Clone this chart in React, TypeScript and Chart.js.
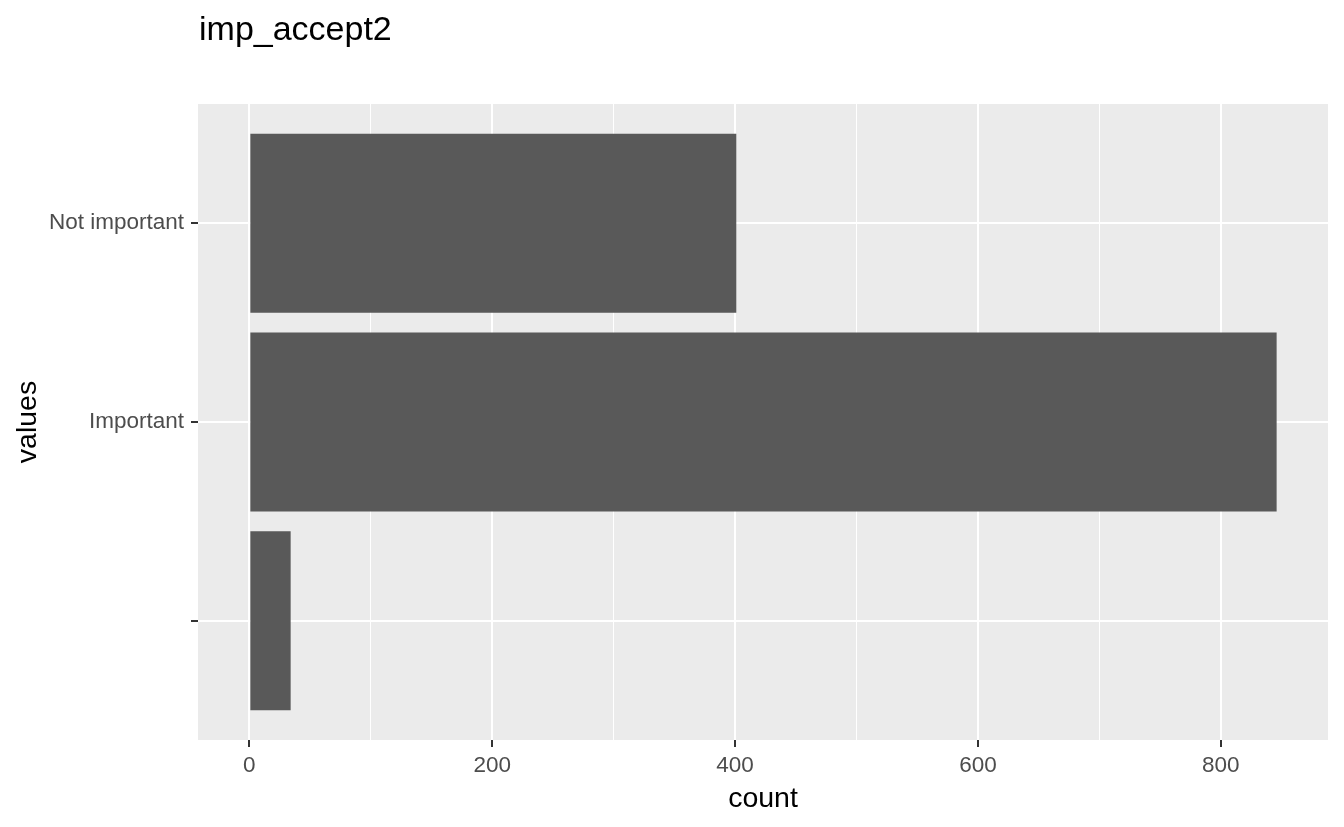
import React, { useEffect, useRef } from "react";
import { Chart, registerables } from "chart.js";
Chart.register(...registerables);

const plotTitle = "imp_accept2";
const xTitle = "count";
const yTitle = "values";
const categories = ["", "Important", "Not important"];
const counts = [34, 846, 401];
const xTicks = [0, 100, 200, 300, 400, 500, 600, 700, 800];
const xMajor = [0, 200, 400, 600, 800];
const xLimits = [-42.3, 888.3];
const yLimits = [0.4, 3.6];

const FONT = '"Liberation Sans", Arial, sans-serif';

export default function App() {
  const ref = useRef<HTMLCanvasElement>(null);
  useEffect(() => {
    const canvas = ref.current!;
    const panelBg = {
      id: "panelBg",
      beforeDraw(chart: any) {
        const { ctx, chartArea: a } = chart;
        ctx.save();
        ctx.fillStyle = "#EBEBEB";
        ctx.fillRect(a.left, a.top, a.right - a.left, a.bottom - a.top);
        ctx.restore();
      },
    };
    const titlePlugin = {
      id: "plotTitle",
      afterDraw(chart: any) {
        const { ctx, chartArea: a } = chart;
        ctx.save();
        ctx.font = `34px ${FONT}`;
        ctx.fillStyle = "#000000";
        ctx.textAlign = "left";
        ctx.textBaseline = "alphabetic";
        ctx.fillText(plotTitle, a.left + 1, 39.5);
        ctx.restore();
      },
    };
    const chart = new Chart(canvas, {
      type: "bar",
      data: {
        datasets: [
          {
            data: categories.map((c, i) => ({ x: counts[i], y: i + 1 })),
            backgroundColor: "#595959",
            borderWidth: 0,
            inflateAmount: 0,
            barPercentage: 0.9,
            categoryPercentage: 1,
          } as any,
        ],
      },
      options: {
        indexAxis: "y",
        responsive: false,
        animation: false,
        devicePixelRatio: 1,
        layout: { padding: { left: 0, top: 104, right: 16, bottom: 0 } },
        plugins: { legend: { display: false }, tooltip: { enabled: false } },
        scales: {
          x: {
            type: "linear",
            position: "bottom",
            min: xLimits[0],
            max: xLimits[1],
            offset: false,
            afterBuildTicks: (s: any) => {
              s.ticks = xTicks.map((v) => ({ value: v }));
            },
            afterFit: (s: any) => {
              s.height = 87;
            },
            ticks: {
              autoSkip: false,
              maxRotation: 0,
              padding: 5,
              color: "#4D4D4D",
              font: { family: FONT, size: 22.5 },
              callback: (v: any) => (xMajor.includes(Number(v)) ? String(v) : ""),
            },
            grid: {
              offset: false,
              color: "#FFFFFF",
              lineWidth: (c: any) => (c.tick && xMajor.includes(c.tick.value) ? 2 : 1),
              tickColor: (c: any) => (c.tick && xMajor.includes(c.tick.value) ? "#333333" : "rgba(0,0,0,0)"),
              tickWidth: 2,
              tickLength: 7,
              drawTicks: true,
            },
            border: { display: false },
            title: {
              display: true,
              text: xTitle,
              color: "#000000",
              font: { family: FONT, size: 28.5 },
              padding: { top: 0, bottom: 10.5 },
            },
          },
          y: {
            type: "linear",
            position: "left",
            min: yLimits[0],
            max: yLimits[1],
            offset: false,
            afterBuildTicks: (s: any) => {
              s.ticks = categories.map((c, i) => ({ value: i + 1 }));
            },
            afterFit: (s: any) => {
              s.width = 198;
            },
            ticks: {
              autoSkip: false,
              padding: 7,
              color: "#4D4D4D",
              font: { family: FONT, size: 22.5 },
              callback: (v: any) => categories[Number(v) - 1] ?? "",
            },
            grid: {
              offset: false,
              color: "#FFFFFF",
              lineWidth: 2,
              tickColor: "#333333",
              tickWidth: 2,
              tickLength: 7,
              drawTicks: true,
            },
            border: { display: false },
            title: {
              display: true,
              text: yTitle,
              color: "#000000",
              font: { family: FONT, size: 28.5 },
              padding: { top: 11, bottom: 0 },
            },
          },
        },
      } as any,
      plugins: [panelBg, titlePlugin],
    });
    return () => chart.destroy();
  }, []);
  return (
    <div style={{ position: "absolute", left: 0, top: 0, width: 1344, height: 827, background: "#FFFFFF" }}>
      <canvas ref={ref} width={1344} height={827} style={{ width: 1344, height: 827, display: "block" }} />
    </div>
  );
}
